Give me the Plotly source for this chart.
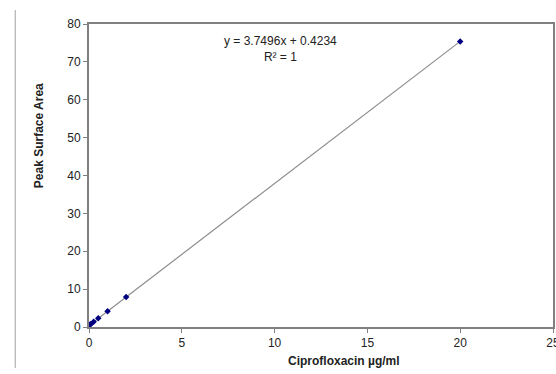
import plotly.graph_objects as go

conc = [0.05, 0.1, 0.25, 0.5, 1, 2, 20]
area = [0.61, 0.80, 1.36, 2.30, 4.17, 7.92, 75.4]
slope = 3.7496
intercept = 0.4234
trend_x = [0, 20]
trend_y = [slope * v + intercept for v in trend_x]

FONT = "Liberation Sans, Arial"
fig = go.Figure()
fig.add_trace(go.Scatter(x=trend_x, y=trend_y, mode="lines",
                         line=dict(color="#8c8c8c", width=1.2), hoverinfo="skip"))
fig.add_trace(go.Scatter(x=conc, y=area, mode="markers",
                         marker=dict(symbol="diamond", size=5, color="#000080")))

axis_common = dict(showline=True, linecolor="#808080", linewidth=2, mirror=True,
                   showgrid=False, zeroline=False, ticks="outside", ticklen=4,
                   tickcolor="#808080", ticklabeloverflow="allow", automargin=False,
                   tickfont=dict(family=FONT, size=12, color="#222"))
fig.update_xaxes(range=[0, 25], dtick=5, **axis_common)
fig.update_yaxes(range=[0, 80], dtick=10, **axis_common)

ph = 374 - 24 - 47
fig.add_annotation(x=0.55, y=(374 - 47 - 361) / ph, xref="paper", yref="paper", yanchor="middle",
                   text="<b>Ciprofloxacin µg/ml</b>", showarrow=False,
                   font=dict(family=FONT, size=12, color="#222"))
fig.add_annotation(x=-0.127, y=0.63, xref="paper", yref="paper", textangle=-90,
                   text="<b>Peak Surface Area</b>", showarrow=False,
                   font=dict(family=FONT, size=12, color="#222"))
fig.add_annotation(x=10.3, y=73.5, xref="x", yref="y",
                   text="y = 3.7496x + 0.4234<br>R² = 1", showarrow=False,
                   font=dict(family=FONT, size=12, color="#222"), align="center")
fig.add_shape(type="line", xref="paper", yref="paper", x0=-0.159, x1=-0.159, y0=-0.135, y1=1.046,
              line=dict(color="#a0a0a0", width=1))

fig.update_layout(width=556, height=374, margin=dict(l=89, r=3, t=24, b=47, autoexpand=False),
                  plot_bgcolor="white", paper_bgcolor="white", showlegend=False)
fig.write_html("out.html")
